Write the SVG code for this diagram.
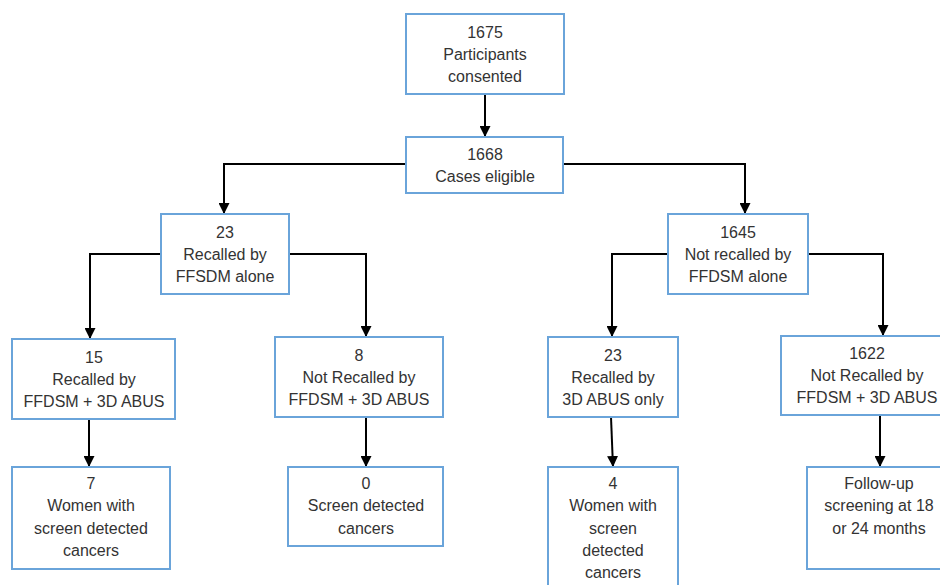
<svg xmlns="http://www.w3.org/2000/svg" width="940" height="585" viewBox="0 0 940 585">
<style>
.box{fill:#fff;stroke:#6aa4da;stroke-width:2}
.t{font-family:"Liberation Sans",Arial,sans-serif;font-size:16px;fill:#333;text-anchor:middle}
.c{fill:none;stroke:#000;stroke-width:2}
</style>
<defs>
<marker id="ah" markerUnits="userSpaceOnUse" markerWidth="11" markerHeight="11" viewBox="0 0 11 11" refX="11" refY="5.5" orient="auto">
<path d="M0,0 L11,5.5 L0,11 Z" fill="#000"/>
</marker>
</defs>
<rect width="940" height="585" fill="#fff"/>
<g id="connectors">
<path class="c" d="M485,94 V137" marker-end="url(#ah)"/>
<path class="c" d="M406,164 H224 V214" marker-end="url(#ah)"/>
<path class="c" d="M563,164 H745 V214" marker-end="url(#ah)"/>
<path class="c" d="M161,254 H90 V339" marker-end="url(#ah)"/>
<path class="c" d="M289,254 H366 V337" marker-end="url(#ah)"/>
<path class="c" d="M668,254 H612 V337" marker-end="url(#ah)"/>
<path class="c" d="M808,254 H883 V336" marker-end="url(#ah)"/>
<path class="c" d="M89,419 V467" marker-end="url(#ah)"/>
<path class="c" d="M366,417 V467" marker-end="url(#ah)"/>
<path class="c" d="M611,417 L613,467" marker-end="url(#ah)"/>
<path class="c" d="M880,415 V467" marker-end="url(#ah)"/>
</g>
<g id="n1675">
<rect class="box" x="406" y="14" width="158" height="80"/>
<text class="t" x="485" y="38">1675</text>
<text class="t" x="485" y="60">Participants</text>
<text class="t" x="485" y="82">consented</text>
</g>
<g id="n1668">
<rect class="box" x="406" y="137" width="157" height="56"/>
<text class="t" x="485" y="160">1668</text>
<text class="t" x="485" y="182">Cases eligible</text>
</g>
<g id="n23a">
<rect class="box" x="161" y="214" width="128" height="80"/>
<text class="t" x="225" y="238">23</text>
<text class="t" x="225" y="260">Recalled by</text>
<text class="t" x="225" y="282">FFSDM alone</text>
</g>
<g id="n1645">
<rect class="box" x="668" y="214" width="140" height="80"/>
<text class="t" x="738" y="238">1645</text>
<text class="t" x="738" y="260">Not recalled by</text>
<text class="t" x="738" y="282">FFDSM alone</text>
</g>
<g id="n15">
<rect class="box" x="12" y="339" width="163" height="80"/>
<text class="t" x="94" y="363">15</text>
<text class="t" x="94" y="385">Recalled by</text>
<text class="t" x="94" y="407">FFDSM + 3D ABUS</text>
</g>
<g id="n8">
<rect class="box" x="275" y="337" width="168" height="80"/>
<text class="t" x="359" y="361">8</text>
<text class="t" x="359" y="383">Not Recalled by</text>
<text class="t" x="359" y="405">FFDSM + 3D ABUS</text>
</g>
<g id="n23b">
<rect class="box" x="548" y="337" width="130" height="80"/>
<text class="t" x="613" y="361">23</text>
<text class="t" x="613" y="383">Recalled by</text>
<text class="t" x="613" y="405">3D ABUS only</text>
</g>
<g id="n1622">
<rect class="box" x="781" y="336" width="172" height="79"/>
<text class="t" x="867" y="359">1622</text>
<text class="t" x="867" y="381">Not Recalled by</text>
<text class="t" x="867" y="403">FFDSM + 3D ABUS</text>
</g>
<g id="n7">
<rect class="box" x="12" y="467" width="158" height="102"/>
<text class="t" x="91" y="489">7</text>
<text class="t" x="91" y="511">Women with</text>
<text class="t" x="91" y="534">screen detected</text>
<text class="t" x="91" y="556">cancers</text>
</g>
<g id="n0">
<rect class="box" x="288" y="467" width="155" height="79"/>
<text class="t" x="366" y="489">0</text>
<text class="t" x="366" y="511">Screen detected</text>
<text class="t" x="366" y="534">cancers</text>
</g>
<g id="n4">
<rect class="box" x="548" y="467" width="130" height="130"/>
<text class="t" x="613" y="489">4</text>
<text class="t" x="613" y="511">Women with</text>
<text class="t" x="613" y="534">screen</text>
<text class="t" x="613" y="556">detected</text>
<text class="t" x="613" y="578">cancers</text>
</g>
<g id="nfollow">
<rect class="box" x="807" y="467" width="146" height="102"/>
<text class="t" x="879" y="489">Follow-up</text>
<text class="t" x="879" y="511">screening at 18</text>
<text class="t" x="879" y="534">or 24 months</text>
</g>
</svg>
